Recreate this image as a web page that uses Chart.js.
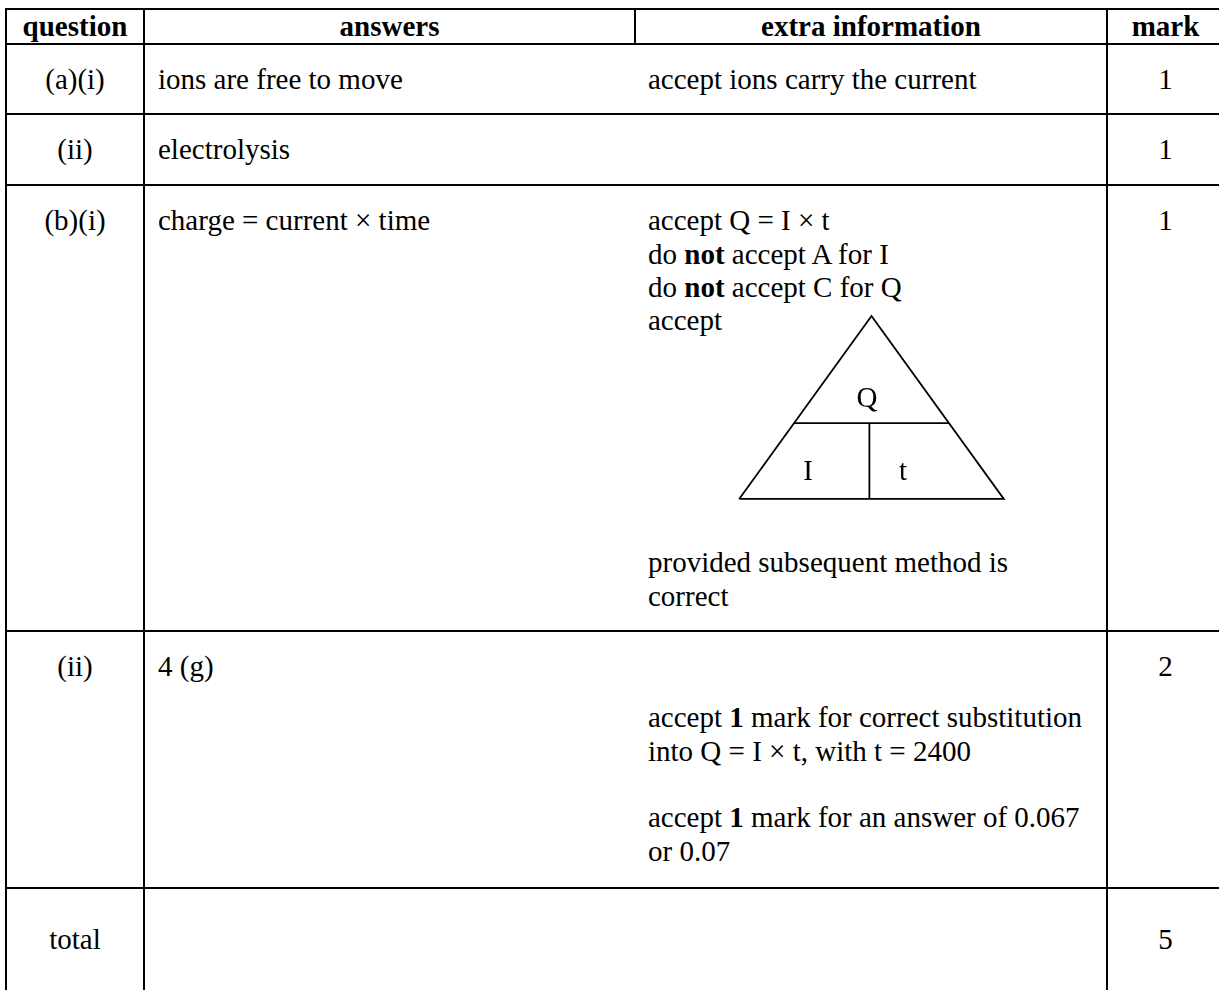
<!DOCTYPE html>
<html>
<head>
<meta charset="utf-8">
<script src="https://cdn.jsdelivr.net/npm/chart.js@4"></script>
<style>
  html, body {
    margin: 0;
    padding: 0;
    background: #fff;
    width: 1219px;
    height: 990px;
    overflow: hidden;
  }
  #sheet {
    position: relative;
    width: 1219px;
    height: 990px;
    overflow: hidden;
  }
  table {
    position: absolute;
    left: 5px;
    top: 8px;
    width: 1218px;
    border-collapse: collapse;
    table-layout: fixed;
    font-family: "Liberation Serif", "Times New Roman", serif;
    font-size: 29px;
    line-height: 33.3px;
    color: #000;
  }
  th, td {
    border: 2px solid #000;
    padding: 0;
    vertical-align: top;
  }
  th {
    font-weight: bold;
    text-align: center;
    vertical-align: middle;
  }
  td.q, td.m { text-align: center; }
  td.a { border-right: hidden; padding-left: 13px; }
  td.e { border-left: hidden; padding-left: 13px; }
  tr.r1 td, tr.r2 td, tr.r3 td, tr.r4 td { padding-top: 18px; }
  tr.r4 td.e { padding-top: 69px; }
  tr.r5 td { padding-top: 34px; }
  .gap { height: 209px; }
  .para2 { margin-top: 33.4px; }
  #tri {
    position: absolute;
    left: 726px;
    top: 303px;
    width: 291px;
    height: 209px;
  }
  #tri span {
    position: absolute;
    transform: translate(-50%, -50%);
    font-family: "Liberation Serif", "Times New Roman", serif;
    font-size: 29px;
    line-height: 1;
  }
</style>
</head>
<body>
<div id="sheet">
  <table id="marks">
    <colgroup>
      <col style="width:138px">
      <col style="width:491px">
      <col style="width:472px">
      <col style="width:117px">
    </colgroup>
    <thead></thead>
    <tbody></tbody>
  </table>
  <div id="tri"><canvas id="triCanvas" width="291" height="209"></canvas></div>
</div>

<script>
// table content
const headers = ['question', 'answers', 'extra information', 'mark'];
const questions = ['(a)(i)', '(ii)', '(b)(i)', '(ii)', 'total'];
const answers = ['ions are free to move', 'electrolysis', 'charge = current \u00d7 time', '4 (g)', ''];
const extraInfo = [
  'accept ions carry the current',
  '',
  'accept Q = I \u00d7 t<br>do <b>not</b> accept A for I<br>do <b>not</b> accept C for Q<br>accept' +
    '<div class="gap"></div>provided subsequent method is<br>correct',
  'accept <b>1</b> mark for correct substitution<br>into Q = I \u00d7 t, with t = 2400' +
    '<div class="para2">accept <b>1</b> mark for an answer of 0.067<br>or 0.07</div>',
  ''
];
const marks = ['1', '1', '1', '2', '5'];
const rowHeights = [35, 70, 71, 446, 257, 160];

// formula triangle, in triangle units (base 10, height 7)
const triangleOutline = [{x: 0, y: 0}, {x: 5, y: 7}, {x: 10, y: 0}, {x: 0, y: 0}];
const splitLine = [{x: 2.07, y: 2.9}, {x: 7.93, y: 2.9}];
const stemLine = [{x: 4.92, y: 0}, {x: 4.92, y: 2.9}];
const triangleLabels = ['Q', 'I', 't'];
const labelPoints = [{x: 4.83, y: 3.9}, {x: 2.6, y: 1.11}, {x: 6.19, y: 1.11}];

const thead = document.querySelector('#marks thead');
const tbody = document.querySelector('#marks tbody');
thead.innerHTML = `<tr style="height:${rowHeights[0]}px">` +
  headers.map(h => `<th>${h}</th>`).join('') + '</tr>';
tbody.innerHTML = questions.map((q, i) =>
  `<tr class="r${i + 1}" style="height:${rowHeights[i + 1]}px">
     <td class="q">${q}</td>
     <td class="a">${answers[i]}</td>
     <td class="e">${extraInfo[i]}</td>
     <td class="m">${marks[i]}</td>
   </tr>`).join('');

const box = document.getElementById('tri');
const spans = triangleLabels.map(t => {
  const s = document.createElement('span');
  s.textContent = t;
  box.appendChild(s);
  return s;
});

// put the Q / I / t labels where the scales say
const placeLabels = {
  id: 'placeLabels',
  afterRender(chart) {
    const {x, y} = chart.scales;
    labelPoints.forEach((p, i) => {
      spans[i].style.left = x.getPixelForValue(p.x) + 'px';
      spans[i].style.top = y.getPixelForValue(p.y) + 'px';
    });
  }
};

const lineStyle = {
  showLine: true,
  borderColor: '#000',
  borderWidth: 1.8,
  pointRadius: 0,
  fill: false,
  tension: 0
};

new Chart(document.getElementById('triCanvas'), {
  type: 'scatter',
  data: {
    datasets: [
      {data: triangleOutline, ...lineStyle},
      {data: splitLine, ...lineStyle},
      {data: stemLine, ...lineStyle}
    ]
  },
  options: {
    responsive: false,
    devicePixelRatio: 1,
    animation: false,
    layout: {padding: 0},
    scales: {
      x: {type: 'linear', min: -0.5, max: 10.5, display: false},
      y: {type: 'linear', min: -0.5, max: 7.5, display: false}
    },
    plugins: {
      legend: {display: false},
      tooltip: {enabled: false}
    }
  },
  plugins: [placeLabels]
});
</script>
</body>
</html>
